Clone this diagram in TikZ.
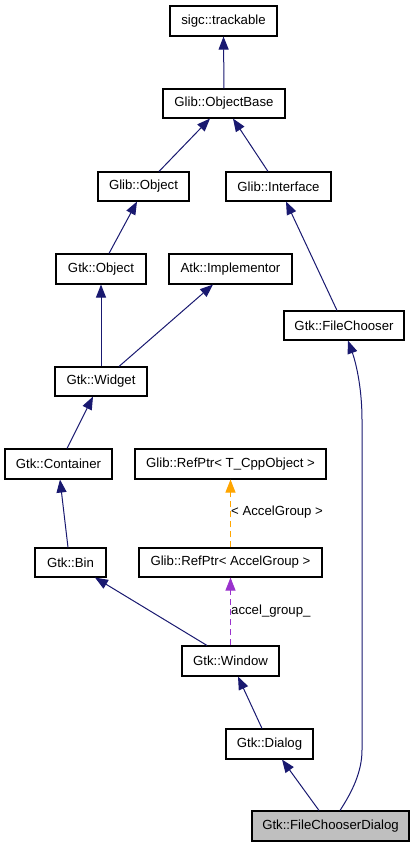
\documentclass[tikz,border=0pt]{standalone}
\usepackage{fontspec}
\setmainfont{Liberation Sans}
\usetikzlibrary{arrows.meta}
\definecolor{edgeblue}{HTML}{191970}
\definecolor{edgeorange}{HTML}{FFA500}
\definecolor{edgepurple}{HTML}{9A32CD}
\definecolor{curfill}{HTML}{BFBFBF}
\begin{document}
\begin{tikzpicture}[x=1pt,y=-1pt,
  cls/.style={draw=black,line width=1.1pt,fill=white,inner sep=0pt,font=\fontsize{13.2}{15}\selectfont},
  cur/.style={cls,fill=curfill},
  inh/.style={draw=edgeblue,line width=1pt,-{Triangle[length=13pt,width=10pt]}},
  tmpl/.style={draw=edgeorange,line width=1pt,dash pattern=on 6pt off 4pt,-{Triangle[length=13pt,width=10pt,fill=edgeorange]}},
  use/.style={draw=edgepurple,line width=1pt,dash pattern=on 6pt off 4pt,-{Triangle[length=13pt,width=10pt,fill=edgepurple]}},
  lbl/.style={anchor=west,inner sep=0pt,font=\fontsize{13.2}{15}\selectfont}]
\useasboundingbox (0,0) rectangle (413,848);
\node[cls,minimum width=107pt,minimum height=30pt] (tr) at (223.5,21) {sigc::trackable};
\node[cls,minimum width=122pt,minimum height=29pt] (ob) at (224,103.5) {Glib::ObjectBase};
\node[cls,minimum width=91pt,minimum height=29pt] (go) at (143.5,186.5) {Glib::Object};
\node[cls,minimum width=105pt,minimum height=29pt] (gi) at (278.5,186.5) {Glib::Interface};
\node[cls,minimum width=90pt,minimum height=30pt] (gto) at (101,269) {Gtk::Object};
\node[cls,minimum width=123pt,minimum height=30pt] (atk) at (230.5,269) {Atk::Implementor};
\node[cls,minimum width=120pt,minimum height=29pt] (fc) at (344,325.5) {Gtk::FileChooser};
\node[cls,minimum width=92pt,minimum height=29pt] (gw) at (101,381.5) {Gtk::Widget};
\node[cls,minimum width=107pt,minimum height=30pt] (gc) at (58.5,464) {Gtk::Container};
\node[cls,minimum width=191pt,minimum height=30pt] (rpt) at (230.5,464) {Glib::RefPtr< T\_CppObject >};
\node[cls,minimum width=71pt,minimum height=29pt] (bin) at (70.5,562.5) {Gtk::Bin};
\node[cls,minimum width=183pt,minimum height=29pt] (rpa) at (230.5,562.5) {Glib::RefPtr< AccelGroup >};
\node[cls,minimum width=97pt,minimum height=30pt] (win) at (230.5,661) {Gtk::Window};
\node[cls,minimum width=87pt,minimum height=30pt] (dlg) at (269.5,744) {Gtk::Dialog};
\node[cur,minimum width=157pt,minimum height=30pt] (fcd) at (330.5,826) {Gtk::FileChooserDialog};

\draw[inh] (ob.north) -- (tr.south);
\draw[inh] ([xshift=15.5pt]go.north) -- ([xshift=-14pt]ob.south);
\draw[inh] ([xshift=-10.5pt]gi.north) -- ([xshift=9pt]ob.south);
\draw[inh] ([xshift=8pt]gto.north) -- ([xshift=-6.5pt]go.south);
\draw[inh] ([xshift=-7pt]fc.north) -- ([xshift=7.5pt]gi.south);
\draw[inh] (gw.north) -- (gto.south);
\draw[inh] ([xshift=18pt]gw.north) -- ([xshift=-17.5pt]atk.south);
\draw[inh] ([xshift=8.5pt]gc.north) -- ([xshift=-8pt]gw.south);
\draw[inh] ([xshift=-2.5pt]bin.north) -- ([xshift=1.5pt]gc.south);
\draw[inh] ([xshift=-23.5pt]win.north) -- ([xshift=24.5pt]bin.south);
\draw[tmpl] (rpa.north) -- (rpt.south);
\draw[use] (win.north) -- (rpa.south);
\draw[inh] ([xshift=-7.5pt]dlg.north) -- ([xshift=7.5pt]win.south);
\draw[inh] ([xshift=-11.5pt]fcd.north) -- ([xshift=12.5pt]dlg.south);
\draw[inh] ([xshift=9.5pt]fcd.north) .. controls (352,792) and (362,772) .. (362,750) -- (362,420) .. controls (362,385) and (355,360) .. ([xshift=4pt]fc.south);

\node[lbl] (l1) at (231,512) {< AccelGroup >};
\node[lbl] (l2) at (231,611) {accel\_group\_};
\end{tikzpicture}
\end{document}
